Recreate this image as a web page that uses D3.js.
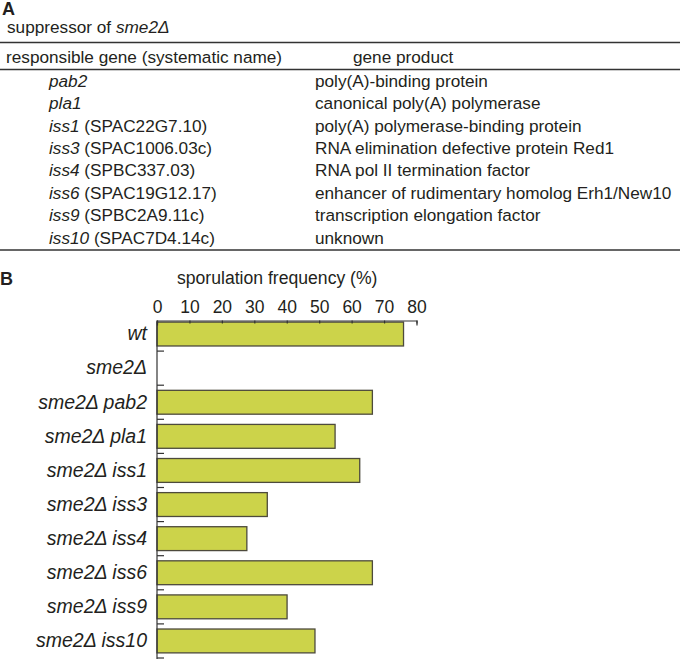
<!DOCTYPE html>
<html>
<head>
<meta charset="utf-8">
<script src="https://cdn.jsdelivr.net/npm/d3@7"></script>
<style>
  body { margin: 0; background: #fff; }
  svg text { font-family: "Liberation Sans", Arial, Helvetica, sans-serif; fill: #231f20; }
</style>
</head>
<body>
<script>
// Panel A: suppressor table
var geneNames = ["pab2", "pla1", "iss1", "iss3", "iss4", "iss6", "iss9", "iss10"];
var systematicNames = ["", "", "SPAC22G7.10", "SPAC1006.03c", "SPBC337.03",
                       "SPAC19G12.17", "SPBC2A9.11c", "SPAC7D4.14c"];
var geneProducts = ["poly(A)-binding protein", "canonical poly(A) polymerase",
                    "poly(A) polymerase-binding protein", "RNA elimination defective protein Red1",
                    "RNA pol II termination factor", "enhancer of rudimentary homolog Erh1/New10",
                    "transcription elongation factor", "unknown"];

// Panel B: sporulation frequency (%)
var strains = ["wt", "sme2\u0394", "sme2\u0394 pab2", "sme2\u0394 pla1", "sme2\u0394 iss1",
               "sme2\u0394 iss3", "sme2\u0394 iss4", "sme2\u0394 iss6", "sme2\u0394 iss9", "sme2\u0394 iss10"];
var sporulation = [76, 0, 66.4, 54.9, 62.5, 34, 27.7, 66.4, 40.1, 48.7];
var xTicks = [0, 10, 20, 30, 40, 50, 60, 70, 80];

var width = 680, height = 659;

var svg = d3.select("body").append("svg")
    .attr("width", width)
    .attr("height", height);

// ---------- Panel A ----------
svg.append("text").text("A")
    .attr("x", 2).attr("y", 15)
    .attr("font-size", "18px").attr("font-weight", "bold");

var cap = svg.append("text").attr("x", 7).attr("y", 33).attr("font-size", "17.2px");
cap.append("tspan").text("suppressor of ");
cap.append("tspan").text("sme2\u0394").attr("font-style", "italic");

// horizontal rules of the table
[42.5, 69.5, 250].forEach(function(y) {
    svg.append("line")
        .attr("x1", 0).attr("x2", width)
        .attr("y1", y).attr("y2", y)
        .attr("stroke", "#333").attr("stroke-width", 1.3);
});

svg.append("text").text("responsible gene (systematic name)")
    .attr("x", 6).attr("y", 63).attr("font-size", "17.2px");
svg.append("text").text("gene product")
    .attr("x", 353).attr("y", 63).attr("font-size", "17.2px");

var rowScale = d3.scalePoint()
    .domain(geneNames)
    .range([87, 243.5]);

var rows = svg.selectAll("g.row")
    .data(geneNames)
    .enter()
    .append("g")
    .attr("class", "row")
    .attr("transform", function(d) { return "translate(0," + rowScale(d) + ")"; });

rows.each(function(d, i) {
    var t = d3.select(this).append("text").attr("x", 49).attr("font-size", "17.2px");
    t.append("tspan").text(d).attr("font-style", "italic");
    if (systematicNames[i]) {
        t.append("tspan").text(" (" + systematicNames[i] + ")");
    }
    d3.select(this).append("text")
        .attr("x", 315).attr("font-size", "17.2px")
        .text(geneProducts[i]);
});

// ---------- Panel B ----------
svg.append("text").text("B")
    .attr("x", 0).attr("y", 285)
    .attr("font-size", "18px").attr("font-weight", "bold");

svg.append("text").text("sporulation frequency (%)")
    .attr("x", 177).attr("y", 284).attr("font-size", "17.6px");

var xScale = d3.scaleLinear().domain([0, 80]).range([157, 416.5]);

var yScale = d3.scaleBand()
    .domain(strains)
    .range([317, 658])
    .paddingInner(0.3)
    .paddingOuter(0.15);

var axisTop = 320.5;

// bars (sme2 delta has no sporulation, so nothing is drawn there)
svg.selectAll("rect.bar")
    .data(strains.map(function(s, i) { return {key: s, value: sporulation[i]}; })
                 .filter(function(d) { return d.value > 0; }))
    .enter()
    .append("rect")
    .attr("class", "bar")
    .attr("x", xScale(0))
    .attr("y", function(d) { return yScale(d.key); })
    .attr("width", function(d) { return xScale(d.value) - xScale(0); })
    .attr("height", yScale.bandwidth())
    .attr("fill", "#ccd34a")
    .attr("stroke", "#4d4a3c")
    .attr("stroke-width", 1.3);

// top x axis, ticks pointing into the plot
var xAxis = d3.axisTop(xScale)
    .tickValues(xTicks)
    .tickSizeInner(-3)
    .tickSizeOuter(-5)
    .tickPadding(8);

var gx = svg.append("g")
    .attr("transform", "translate(0," + axisTop + ")")
    .call(xAxis);
gx.selectAll("path, line").attr("stroke", "#333").attr("stroke-width", 1.2);
gx.selectAll("text")
    .attr("font-size", "17.5px")
    .attr("font-family", "'Liberation Sans', Arial, Helvetica, sans-serif")
    .attr("fill", "#231f20");

// left y axis: line, labels, small ticks between categories
svg.append("line")
    .attr("x1", xScale(0)).attr("x2", xScale(0))
    .attr("y1", axisTop).attr("y2", height)
    .attr("stroke", "#333").attr("stroke-width", 1.2);

var yAxis = d3.axisLeft(yScale).tickSize(0).tickPadding(10);
var gy = svg.append("g")
    .attr("transform", "translate(" + xScale(0) + ",0)")
    .call(yAxis);
gy.select(".domain").remove();
gy.selectAll("text")
    .attr("font-size", "19.5px")
    .attr("font-style", "italic")
    .attr("font-family", "'Liberation Sans', Arial, Helvetica, sans-serif")
    .attr("fill", "#231f20");

var step = yScale.step();
svg.selectAll("line.ytick")
    .data(strains)
    .enter()
    .append("line")
    .attr("class", "ytick")
    .attr("x1", xScale(0)).attr("x2", xScale(0) + 7)
    .attr("y1", function(d) { return yScale(d) + yScale.bandwidth() + step * 0.15; })
    .attr("y2", function(d) { return yScale(d) + yScale.bandwidth() + step * 0.15; })
    .attr("stroke", "#333").attr("stroke-width", 1.2);
</script>
</body>
</html>
